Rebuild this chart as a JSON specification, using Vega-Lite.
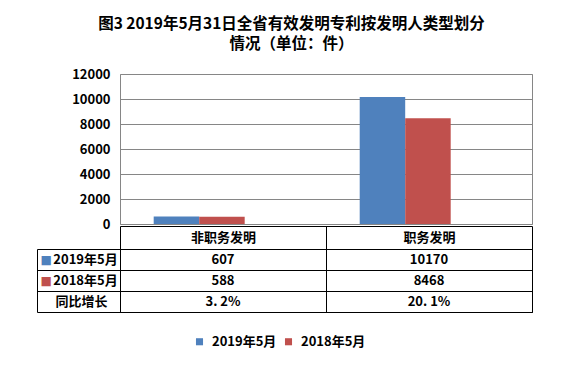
{
  "$schema": "https://vega.github.io/schema/vega-lite/v6.json",
  "background": "white",
  "padding": {"left": 36, "top": 17, "right": 10, "bottom": 10},
  "title": {
    "text": ["图3 2019年5月31日全省有效发明专利按发明人类型划分", "情况（单位：件）"],
    "font": "Noto Sans CJK SC",
    "fontSize": 15.5,
    "fontWeight": "bold",
    "lineHeight": 20,
    "color": "black",
    "anchor": "middle",
    "frame": "bounds",
    "dx": 7,
    "offset": 15
  },
  "config": {
    "font": "Noto Sans CJK SC",
    "axis": {
      "labelFont": "Noto Sans CJK SC",
      "labelFontWeight": "bold",
      "labelFontSize": 13,
      "labelColor": "black"
    },
    "legend": {
      "labelFont": "Noto Sans CJK SC",
      "labelFontWeight": "bold",
      "labelFontSize": 13,
      "labelColor": "black"
    }
  },
  "bounds": "flush",
  "spacing": 25,
  "datasets": {
    "bars": [
      {"category": "非职务发明", "series": "2019年5月", "value": 607},
      {"category": "非职务发明", "series": "2018年5月", "value": 588},
      {"category": "职务发明", "series": "2019年5月", "value": 10170},
      {"category": "职务发明", "series": "2018年5月", "value": 8468}
    ],
    "table": [
      {"category": "非职务发明", "row": "2019年5月", "text": "607"},
      {"category": "职务发明", "row": "2019年5月", "text": "10170"},
      {"category": "非职务发明", "row": "2018年5月", "text": "588"},
      {"category": "职务发明", "row": "2018年5月", "text": "8468"},
      {"category": "非职务发明", "row": "同比增长", "text": "3. 2%"},
      {"category": "职务发明", "row": "同比增长", "text": "20. 1%"}
    ]
  },
  "vconcat": [
    {
      "width": 412,
      "height": 150,
      "view": {"stroke": "#868686"},
      "data": {"name": "bars"},
      "mark": {"type": "bar"},
      "encoding": {
        "x": {
          "field": "category",
          "type": "nominal",
          "sort": ["非职务发明", "职务发明"],
          "scale": {"paddingInner": 0.5583, "paddingOuter": 0.2791, "align": 0.293},
          "axis": {
            "title": null,
            "orient": "bottom",
            "offset": 2,
            "domainColor": "black",
            "ticks": false,
            "labels": false,
            "grid": false
          }
        },
        "xOffset": {
          "field": "series",
          "type": "nominal",
          "sort": ["2019年5月", "2018年5月"],
          "scale": {"paddingInner": 0, "paddingOuter": 0}
        },
        "y": {
          "field": "value",
          "type": "quantitative",
          "scale": {"domain": [0, 12000], "nice": false},
          "axis": {
            "title": null,
            "values": [0, 2000, 4000, 6000, 8000, 10000, 12000],
            "format": "d",
            "grid": true,
            "gridColor": "#868686",
            "ticks": false,
            "domain": false,
            "labelPadding": 10
          }
        },
        "color": {
          "field": "series",
          "type": "nominal",
          "scale": {"domain": ["2019年5月", "2018年5月"], "range": ["#4F81BD", "#C0504D"]},
          "legend": {
            "title": null,
            "orient": "none",
            "legendX": 73,
            "legendY": 261,
            "direction": "horizontal",
            "symbolType": "square",
            "symbolSize": 50,
            "symbolStrokeWidth": 0,
            "labelOffset": 6,
            "columnPadding": 5
          }
        }
      }
    },
    {
      "width": 412,
      "height": 63,
      "view": {"stroke": "black"},
      "data": {"name": "table"},
      "resolve": {"axis": {"y": "independent"}},
      "layer": [
        {
          "mark": {"type": "text", "fontWeight": "bold", "fontSize": 13, "color": "black"},
          "encoding": {
            "x": {
              "field": "category",
              "type": "nominal",
              "sort": ["非职务发明", "职务发明"],
              "scale": {"paddingInner": 0, "paddingOuter": 0},
              "axis": {
                "title": null,
                "orient": "top",
                "domain": false,
                "grid": true,
                "gridColor": "black",
                "tickBand": "extent",
                "ticks": true,
                "tickSize": 23,
                "tickColor": "black",
                "labelAngle": 0,
                "labelBaseline": "middle",
                "labelPadding": -11.5
              }
            },
            "y": {
              "field": "row",
              "type": "nominal",
              "sort": ["2019年5月", "2018年5月", "同比增长"],
              "scale": {"paddingInner": 0, "paddingOuter": 0},
              "axis": {
                "title": null,
                "orient": "left",
                "domain": false,
                "grid": true,
                "gridColor": "black",
                "tickBand": "extent",
                "ticks": true,
                "tickSize": 83,
                "tickColor": "black",
                "labelAlign": "center",
                "labelBaseline": "middle",
                "labelPadding": {"condition": {"test": "datum.value == '同比增长'", "value": -44}, "value": -48}
              }
            },
            "text": {"field": "text"}
          }
        },
        {
          "mark": {"type": "text", "text": ""},
          "encoding": {
            "x": {"field": "category", "type": "nominal", "sort": ["非职务发明", "职务发明"]},
            "y": {
              "field": "row",
              "type": "nominal",
              "sort": ["2019年5月", "2018年5月", "同比增长"],
              "axis": {
                "title": null,
                "orient": "left",
                "offset": 83,
                "domain": true,
                "domainColor": "black",
                "ticks": false,
                "grid": false,
                "labelExpr": "datum.value == '同比增长' ? '' : '■'",
                "labelColor": {"condition": {"test": "datum.value == '2019年5月'", "value": "#4F81BD"}, "value": "#C0504D"},
                "labelAlign": "left",
                "labelBaseline": "middle",
                "labelPadding": -3,
                "labelFont": "DejaVu Sans",
                "labelFontSize": 12
              }
            }
          }
        }
      ]
    }
  ]
}
